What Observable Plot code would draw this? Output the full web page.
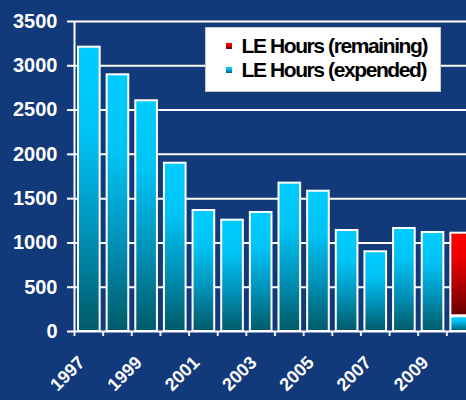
<!DOCTYPE html>
<html>
<head>
<meta charset="utf-8">
<script src="https://cdn.jsdelivr.net/npm/d3@7"></script>
<script src="https://cdn.jsdelivr.net/npm/@observablehq/plot@0.6"></script>
<style>
  html, body { margin: 0; padding: 0; background: #12397a; overflow: hidden; }
  #wrap { position: relative; width: 466px; height: 400px; background: #12397a; overflow: hidden; }
  #legend { position: absolute; left: 205px; top: 27px; }
</style>
</head>
<body>
<div id="wrap"></div>
<script>
// ---- data ----
const years = [1997, 1998, 1999, 2000, 2001, 2002, 2003, 2004, 2005, 2006, 2007, 2008, 2009, 2010];
const expended = [3210, 2898, 2605, 1900, 1366, 1257, 1344, 1675, 1584, 1140, 900, 1163, 1118, 166];
const remaining = [0, 0, 0, 0, 0, 0, 0, 0, 0, 0, 0, 0, 0, 944];
const yTicks = [0, 500, 1000, 1500, 2000, 2500, 3000, 3500];
const tickYears = [1997, 1998, 1999, 2000, 2001, 2002, 2003, 2004, 2005, 2006, 2007, 2008, 2009, 2010, 2011];
const labelYears = [1997, 1999, 2001, 2003, 2005, 2007, 2009];
const seriesNames = ["LE Hours (remaining)", "LE Hours (expended)"];

const rows = years.map((y, i) => ({year: y, expended: expended[i], remaining: remaining[i]}));
const remRows = rows.filter(d => d.remaining > 0);

const FONT = "'Liberation Sans', Arial, sans-serif";
const NS = "http://www.w3.org/2000/svg";

function makeGrad(id, stops) {
  const g = document.createElementNS(NS, "linearGradient");
  g.setAttribute("id", id);
  g.setAttribute("x1", "0"); g.setAttribute("y1", "0");
  g.setAttribute("x2", "0"); g.setAttribute("y2", "1");
  for (const [o, c] of stops) {
    const s = document.createElementNS(NS, "stop");
    s.setAttribute("offset", o);
    s.setAttribute("stop-color", c);
    g.appendChild(s);
  }
  return g;
}
const blueStops = [[0, "#00ccff"], [0.3, "#00c4f6"], [0.65, "#0092b8"], [1, "#005a68"]];
const redStops = [[0, "#ff0000"], [0.3, "#ee0000"], [0.7, "#a00000"], [1, "#6a0000"]];

const defsMark = () => {
  const d = document.createElementNS(NS, "defs");
  d.appendChild(makeGrad("gBlue", blueStops));
  d.appendChild(makeGrad("gRed", redStops));
  return d;
};

const chart = Plot.plot({
  width: 466,
  height: 400,
  marginLeft: 74,
  marginTop: 21,
  marginBottom: 69,
  marginRight: 0,
  style: {background: "#12397a", fontFamily: FONT, overflow: "visible"},
  x: {type: "linear", domain: [1997, 2011], range: [74, 475], axis: null},
  y: {domain: [0, 3500], axis: null},
  marks: [
    defsMark,
    Plot.ruleY(yTicks, {stroke: "#ffffff", strokeWidth: 2}),
    Plot.ruleX([1997], {stroke: "#ffffff", strokeWidth: 2}),
    Plot.axisY(yTicks, {
      tickSize: 7, tickPadding: 10, stroke: "#ffffff", strokeWidth: 2,
      fill: "#ffffff", fontSize: 20, fontWeight: "bold", tickFormat: d => String(d), label: null
    }),
    Plot.axisX(tickYears, {
      tickSize: 5, stroke: "#eeeeee", strokeWidth: 2, anchor: "bottom",
      tickFormat: () => "", label: null
    }),
    Plot.text(labelYears, {
      x: d => d + 0.5, y: () => 0, text: d => String(d),
      rotate: -45, textAnchor: "end", dx: -7, dy: 28,
      fill: "#ffffff", fontSize: 18, fontWeight: "bold"
    }),
    Plot.rect(rows, {
      x1: "year", x2: d => d.year + 1, y1: () => 0, y2: "expended",
      insetLeft: 4, insetRight: 3,
      fill: "url(#gBlue)", stroke: "#ffffff", strokeWidth: 2
    }),
    Plot.rect(remRows, {
      x1: "year", x2: d => d.year + 1, y1: "expended", y2: d => d.expended + d.remaining,
      insetLeft: 4, insetRight: 3, insetBottom: 1,
      fill: "url(#gRed)", stroke: "#ffffff", strokeWidth: 2
    })
  ]
});

const wrap = document.getElementById("wrap");
wrap.appendChild(chart);

// ---- legend ----
const leg = document.createElementNS(NS, "svg");
leg.setAttribute("id", "legend");
leg.setAttribute("width", "236");
leg.setAttribute("height", "65");
const ldefs = document.createElementNS(NS, "defs");
ldefs.appendChild(makeGrad("lgBlue", blueStops));
ldefs.appendChild(makeGrad("lgRed", redStops));
leg.appendChild(ldefs);
const box = document.createElementNS(NS, "rect");
box.setAttribute("x", "0.5"); box.setAttribute("y", "0.5");
box.setAttribute("width", "235"); box.setAttribute("height", "64");
box.setAttribute("fill", "#ffffff"); box.setAttribute("stroke", "#c8c8c8");
leg.appendChild(box);
const legendItems = [
  {name: seriesNames[0], fill: "url(#lgRed)", base: 26},
  {name: seriesNames[1], fill: "url(#lgBlue)", base: 50}
];
for (const it of legendItems) {
  const sq = document.createElementNS(NS, "rect");
  sq.setAttribute("x", "21"); sq.setAttribute("y", String(it.base - 10));
  sq.setAttribute("width", "6"); sq.setAttribute("height", "6");
  sq.setAttribute("fill", it.fill);
  leg.appendChild(sq);
  const t = document.createElementNS(NS, "text");
  t.setAttribute("x", "36.5"); t.setAttribute("y", String(it.base));
  t.setAttribute("font-family", FONT);
  t.setAttribute("font-size", "21");
  t.setAttribute("font-weight", "bold");
  t.setAttribute("letter-spacing", "-1.4");
  t.setAttribute("fill", "#000000");
  t.textContent = it.name;
  leg.appendChild(t);
}
wrap.appendChild(leg);
</script>
</body>
</html>
